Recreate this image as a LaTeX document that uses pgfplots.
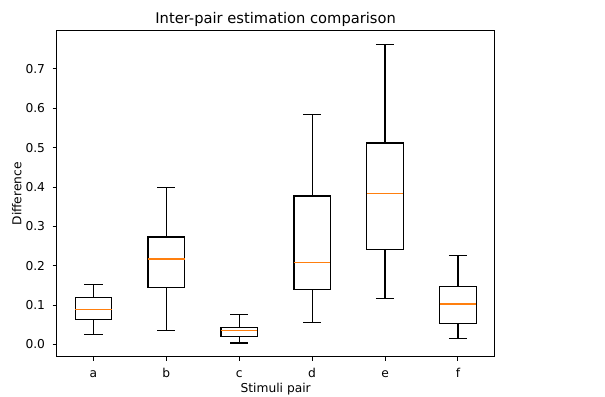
\documentclass[border=0pt]{standalone}
\usepackage{fontspec}
\setmainfont{DejaVu Sans}
\usepackage{pgfplots}
\pgfplotsset{compat=1.18}
\definecolor{mplorange}{HTML}{FF7F0E}
% #1 position, #2 lower whisker, #3 lower quartile, #4 median, #5 upper quartile, #6 upper whisker
\newcommand{\mplbox}[6]{%
  \pgfmathsetmacro\xl{#1-0.25}\pgfmathsetmacro\xr{#1+0.25}%
  \pgfmathsetmacro\cl{#1-0.125}\pgfmathsetmacro\cr{#1+0.125}%
  \edef\doplots{%
  \noexpand\addplot[black, line width=1pt, line join=miter] coordinates {(\xl,#3)(\xr,#3)(\xr,#5)(\xl,#5)(\xl,#3)(\xr,#3)};
  \noexpand\addplot[black, line width=1pt] coordinates {(#1,#3)(#1,#2)};
  \noexpand\addplot[black, line width=1pt] coordinates {(\cl,#2)(\cr,#2)};
  \noexpand\addplot[black, line width=1pt] coordinates {(#1,#5)(#1,#6)};
  \noexpand\addplot[black, line width=1pt] coordinates {(\cl,#6)(\cr,#6)};
  \noexpand\addplot[mplorange, line width=1pt] coordinates {(\xl,#4)(\xr,#4)};
  }\doplots
}
\begin{document}
\begin{tikzpicture}
\useasboundingbox (-46.5pt,-32.2pt) rectangle (447.4pt,291.2pt);
\begin{axis}[
  at={(0pt,0pt)}, anchor=south west,
  scale only axis, width=357.1pt, height=266.1pt,
  xmin=0.5, xmax=6.5, ymin=-0.031, ymax=0.797,
  xtick={1,2,3,4,5,6}, xticklabels={a,b,c,d,e,f},
  ytick={0,0.1,0.2,0.3,0.4,0.5,0.6,0.7},
  yticklabel style={xshift=-2.7pt, /pgf/number format/.cd, fixed, fixed zerofill, precision=1},
  /pgf/number format/assume math mode=true,
  tick align=outside, major tick length=3.5pt,
  tick style={black, line width=0.8pt},
  axis line style={line width=0.8pt},
  xtick pos=bottom, ytick pos=left,
  tick label style={font=\fontsize{10}{12}\selectfont},
  xticklabel style={anchor=base, yshift=-13.6pt},
  label style={font=\fontsize{10}{12}\selectfont},
  every axis title shift=0pt,
  title style={font=\fontsize{12}{14}\selectfont, at={(axis description cs:0.5,1.0225)}, anchor=base, yshift=0pt},
  xlabel style={at={(axis description cs:0.5,-0.1105)}, anchor=base},
  ylabel style={at={(axis description cs:-0.0812,0.5)}, anchor=base},
  title={Inter-pair estimation comparison},
  xlabel={Stimuli pair}, ylabel={Difference},
]
\mplbox{1}{0.025}{0.064}{0.089}{0.119}{0.153}
\mplbox{2}{0.035}{0.145}{0.217}{0.273}{0.398}
\mplbox{3}{0.004}{0.020}{0.036}{0.044}{0.076}
\mplbox{4}{0.056}{0.139}{0.209}{0.377}{0.585}
\mplbox{5}{0.116}{0.242}{0.383}{0.512}{0.762}
\mplbox{6}{0.016}{0.054}{0.103}{0.147}{0.226}
\end{axis}
\end{tikzpicture}
\end{document}
